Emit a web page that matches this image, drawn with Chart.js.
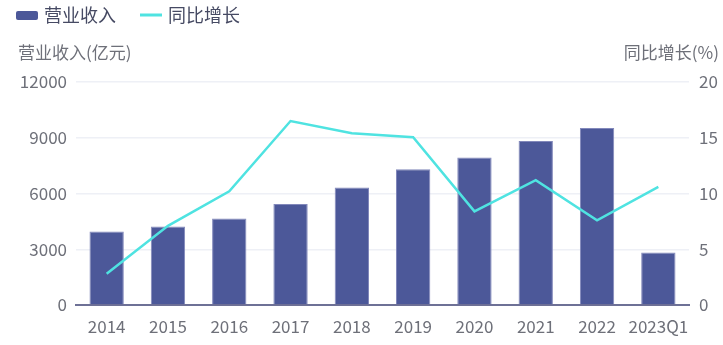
<!DOCTYPE html>
<html>
<head>
<meta charset="utf-8">
<script src="https://cdn.jsdelivr.net/npm/chart.js@4"></script>
<style>
  html, body { margin: 0; padding: 0; background: #fff; }
  #wrap { width: 723px; height: 345px; }
</style>
</head>
<body>
<div id="wrap"><canvas id="revChart" width="723" height="345"></canvas></div>
<script>
// 年份与数据
const years = ['2014', '2015', '2016', '2017', '2018', '2019', '2020', '2021', '2022', '2023Q1'];
const revenue = [3950, 4220, 4660, 5440, 6320, 7310, 7940, 8830, 9520, 2820]; // 营业收入(亿元)
const growth = [2.8, 7.1, 10.2, 16.5, 15.4, 15.05, 8.4, 11.2, 7.6, 10.6];    // 同比增长(%)
const leftTicks = [0, 3000, 6000, 9000, 12000];
const rightTicks = [0, 5, 10, 15, 20];

const FONT = '"Noto Sans CJK SC", "Noto Sans", sans-serif';
const TEXT = '#6e7079';
const BAR = '#4c5899';
const LINE = '#4fe3e1';

// 图例 + 坐标轴标题
const overlay = {
  id: 'overlay',
  afterDraw(chart) {
    const ctx = chart.ctx;
    ctx.save();
    ctx.textBaseline = 'middle';
    ctx.font = '18px ' + FONT;
    ctx.fillStyle = BAR;
    ctx.beginPath();
    ctx.roundRect(16, 11, 22, 9, 2);
    ctx.fill();
    ctx.fillStyle = '#464a63';
    ctx.fillText('营业收入', 44, 15);
    ctx.strokeStyle = LINE;
    ctx.lineWidth = 3;
    ctx.beginPath();
    ctx.moveTo(140, 15);
    ctx.lineTo(162, 15);
    ctx.stroke();
    ctx.fillStyle = '#464a63';
    ctx.fillText('同比增长', 168, 15);

    ctx.font = '17px ' + FONT;
    ctx.fillStyle = TEXT;
    ctx.textAlign = 'left';
    ctx.fillText('营业收入(亿元)', 18, 53);
    ctx.textAlign = 'right';
    ctx.fillText('同比增长(%)', 719, 53);
    ctx.restore();
  }
};

const tickFont = { family: FONT, size: 17 };

new Chart(document.getElementById('revChart'), {
  data: {
    labels: years,
    datasets: [
      {
        type: 'line',
        label: '同比增长',
        data: growth,
        yAxisID: 'y1',
        borderColor: LINE,
        borderWidth: 2.5,
        pointRadius: 0,
        tension: 0,
        fill: false,
        order: 0
      },
      {
        type: 'bar',
        label: '营业收入',
        data: revenue,
        yAxisID: 'y',
        backgroundColor: BAR,
        borderColor: '#8288bb',
        borderWidth: 1,
        barPercentage: 0.56,
        categoryPercentage: 1,
        order: 1
      }
    ]
  },
  options: {
    responsive: false,
    animation: false,
    layout: { padding: { top: 82, left: 0, right: 0, bottom: 0 } },
    plugins: {
      legend: { display: false },
      tooltip: { enabled: false }
    },
    scales: {
      x: {
        grid: { display: false },
        border: { color: '#6e7196', width: 2 },
        ticks: { color: TEXT, font: tickFont, padding: 3, maxRotation: 0, autoSkip: false },
        afterFit(s) { s.height = 40; }
      },
      y: {
        position: 'left',
        min: 0, max: 12000,
        afterBuildTicks(s) { s.ticks = leftTicks.map(v => ({ value: v })); },
        grid: { color: '#eef0f6', lineWidth: 1.5, drawTicks: false },
        border: { display: false },
        ticks: { color: TEXT, font: tickFont, padding: 9, callback: v => String(v) },
        afterFit(s) { s.width = 76; }
      },
      y1: {
        position: 'right',
        min: 0, max: 20,
        afterBuildTicks(s) { s.ticks = rightTicks.map(v => ({ value: v })); },
        grid: { display: false, drawTicks: false },
        border: { display: false },
        ticks: { color: TEXT, font: tickFont, padding: 10, callback: v => String(v) },
        afterFit(s) { s.width = 34; }
      }
    }
  },
  plugins: [overlay]
});
</script>
</body>
</html>
